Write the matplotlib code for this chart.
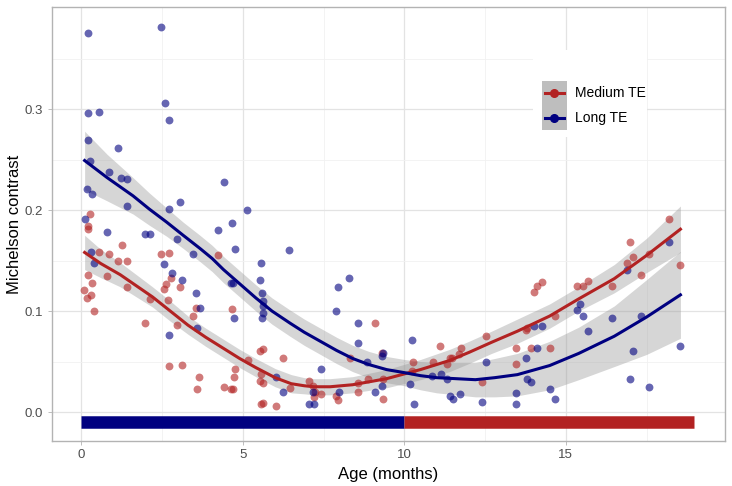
import matplotlib
matplotlib.use("Agg")
import matplotlib.pyplot as plt
from matplotlib.lines import Line2D
from matplotlib.patches import Rectangle
import numpy as np

plt.rcParams['font.family'] = ['Liberation Sans', 'DejaVu Sans']

# scatter points (age in months, Michelson contrast)
long_x = [0.20, 2.46, 0.20, 0.56, 2.60, 2.72, 0.20, 1.12, 0.27, 0.85, 1.24, 1.41, 0.16, 0.33,
          3.05, 4.42, 5.14, 2.70, 4.67, 4.24, 0.11, 0.79, 1.97, 2.11, 2.96, 4.76, 6.43, 1.42,
          3.45, 0.30, 0.40, 2.56, 2.80, 3.12, 3.54, 3.67, 3.57, 2.72, 5.55, 5.53, 4.62, 4.70,
          5.58, 5.61, 5.62, 5.62, 5.58, 4.73, 7.42, 6.03, 6.23, 7.16, 7.06, 7.19, 7.95, 8.30,
          7.88, 8.58, 8.57, 8.85, 7.99, 9.34, 9.31, 9.32, 9.10, 10.25, 10.18, 10.29, 10.87,
          11.13, 11.33, 11.40, 11.51, 11.72, 12.54, 12.41, 13.46, 13.46, 13.77, 13.79, 13.93,
          14.12, 14.00, 14.26, 14.51, 14.68, 15.36, 15.43, 15.54, 15.70, 16.42, 16.89, 17.34,
          17.07, 16.98, 17.57, 18.20, 18.55]
long_y = [0.375, 0.381, 0.296, 0.297, 0.306, 0.289, 0.269, 0.261, 0.249, 0.238, 0.232, 0.231,
          0.221, 0.216, 0.208, 0.228, 0.200, 0.201, 0.187, 0.180, 0.191, 0.178, 0.176, 0.176,
          0.171, 0.161, 0.160, 0.204, 0.156, 0.158, 0.148, 0.147, 0.138, 0.131, 0.118, 0.103,
          0.083, 0.076, 0.148, 0.131, 0.128, 0.128, 0.118, 0.110, 0.105, 0.098, 0.093, 0.093,
          0.043, 0.035, 0.020, 0.020, 0.008, 0.008, 0.124, 0.133, 0.100, 0.088, 0.068, 0.050,
          0.020, 0.058, 0.055, 0.026, 0.0195, 0.071, 0.028, 0.008, 0.036, 0.038, 0.033, 0.016,
          0.013, 0.018, 0.050, 0.010, 0.0185, 0.008, 0.053, 0.033, 0.030, 0.063, 0.085, 0.085,
          0.023, 0.013, 0.101, 0.107, 0.095, 0.080, 0.093, 0.141, 0.095, 0.060, 0.033, 0.025,
          0.168, 0.065]

med_x = [0.26, 0.20, 0.20, 1.25, 0.56, 0.86, 1.12, 1.42, 0.20, 0.33, 0.78, 0.09, 0.17, 0.30,
         0.40, 1.42, 1.98, 2.12, 2.46, 2.72, 2.79, 2.61, 2.56, 2.69, 3.05, 2.95, 3.45, 3.54,
         2.72, 3.12, 3.64, 3.57, 4.24, 4.66, 5.52, 5.61, 5.15, 6.25, 4.75, 4.72, 4.43, 4.64,
         4.68, 5.56, 5.53, 5.62, 5.57, 5.61, 6.04, 6.45, 7.05, 7.18, 7.22, 7.20, 7.42, 7.87,
         7.96, 8.31, 8.57, 8.57, 8.86, 9.10, 9.30, 9.34, 9.35, 10.26, 10.25, 10.88, 11.12,
         11.33, 11.41, 11.47, 11.70, 11.75, 12.54, 13.46, 13.46, 12.41, 13.76, 13.79, 13.92,
         14.51, 14.68, 14.00, 14.12, 14.26, 15.36, 15.54, 15.70, 16.42, 16.89, 17.07, 16.98,
         17.34, 17.58, 18.19, 18.55]
med_y = [0.196, 0.184, 0.181, 0.165, 0.158, 0.156, 0.150, 0.150, 0.136, 0.128, 0.135, 0.121,
         0.113, 0.116, 0.100, 0.124, 0.088, 0.112, 0.156, 0.157, 0.133, 0.127, 0.122, 0.111,
         0.124, 0.086, 0.095, 0.103, 0.046, 0.047, 0.035, 0.023, 0.155, 0.102, 0.060, 0.062,
         0.051, 0.053, 0.043, 0.035, 0.025, 0.023, 0.023, 0.038, 0.031, 0.029, 0.008, 0.009,
         0.006, 0.024, 0.031, 0.026, 0.020, 0.015, 0.018, 0.016, 0.012, 0.053, 0.029, 0.020,
         0.033, 0.088, 0.058, 0.033, 0.013, 0.050, 0.041, 0.050, 0.065, 0.048, 0.053, 0.053,
         0.057, 0.063, 0.075, 0.063, 0.048, 0.030, 0.081, 0.083, 0.063, 0.063, 0.095, 0.119,
         0.125, 0.129, 0.125, 0.125, 0.130, 0.125, 0.148, 0.153, 0.168, 0.136, 0.156, 0.191,
         0.146]

# smoothed trends, with half-width of the grey band
med_fit_x = [0.1, 0.6, 1.2, 1.7, 2.2, 2.75, 3.3, 3.85, 4.4, 4.9, 5.4, 6.0, 6.5, 6.9, 7.2,
             7.7, 8.4, 9.45, 10.5, 11.4, 12.0, 12.7, 13.5, 14.5, 15.4, 16.5, 17.5, 18.55]
med_fit_y = [0.158, 0.147, 0.136, 0.125, 0.114, 0.100, 0.086, 0.074, 0.063, 0.053, 0.044,
             0.034, 0.028, 0.026, 0.025, 0.025, 0.027, 0.033, 0.042, 0.051, 0.059, 0.069,
             0.080, 0.095, 0.112, 0.132, 0.155, 0.181]
med_se = [0.017, 0.014, 0.012, 0.011, 0.010, 0.010, 0.009, 0.009, 0.009, 0.009, 0.009,
          0.009, 0.009, 0.008, 0.008, 0.008, 0.008, 0.009, 0.010, 0.011, 0.011, 0.011,
          0.012, 0.012, 0.012, 0.014, 0.017, 0.023]

long_fit_x = [0.1, 0.8, 1.6, 2.1, 2.64, 3.15, 3.67, 4.05, 4.4, 4.9, 5.4, 5.9, 6.46, 6.9, 7.4,
              7.9, 8.4, 8.9, 9.45, 10.0, 10.5, 11.0, 11.6, 12.2, 12.8, 13.5, 14.5, 15.4, 16.5,
              17.5, 18.55]
long_fit_y = [0.249, 0.232, 0.214, 0.201, 0.188, 0.175, 0.162, 0.152, 0.141, 0.127, 0.113,
              0.100, 0.088, 0.079, 0.070, 0.061, 0.053, 0.047, 0.042, 0.039, 0.036, 0.034,
              0.033, 0.032, 0.034, 0.037, 0.046, 0.058, 0.075, 0.094, 0.116]
long_se = [0.029, 0.023, 0.018, 0.016, 0.014, 0.013, 0.013, 0.013, 0.013, 0.013, 0.013,
           0.013, 0.013, 0.013, 0.013, 0.013, 0.013, 0.013, 0.013, 0.013, 0.014, 0.015,
           0.016, 0.017, 0.019, 0.021, 0.024, 0.026, 0.030, 0.037, 0.043]

# TE protocol bar along the bottom
bar_start = [0, 10]
bar_end = [10, 18.96]
bar_level = -0.01

RED = '#B22222'
NAVY = '#000080'

fig = plt.figure(figsize=(7.32, 4.86), dpi=100)
ax = fig.add_axes([0.0706, 0.0926, 0.9194, 0.893])

ax.set_xlim(-0.92, 19.92)
ax.set_ylim(-0.0287, 0.401)
ax.set_xticks([0, 5, 10, 15])
ax.set_yticks([0.0, 0.1, 0.2, 0.3])
ax.set_yticklabels(['0.0', '0.1', '0.2', '0.3'])
ax.set_xticks([2.5, 7.5, 12.5, 17.5], minor=True)
ax.set_yticks([0.05, 0.15, 0.25, 0.35], minor=True)
ax.grid(which='major', color='#E3E3E3', lw=0.9)
ax.grid(which='minor', color='#F1F1F1', lw=0.6)
ax.set_axisbelow(True)
ax.tick_params(which='major', length=3, width=0.6, color='#B3B3B3',
               labelsize=9.5, labelcolor='#4D4D4D', pad=3)
ax.tick_params(which='minor', length=0)
for s in ax.spines.values():
    s.set_color('#B3B3B3')
    s.set_linewidth(1.0)

for x0, x1, c in zip(bar_start, bar_end, [NAVY, RED]):
    ax.plot([x0, x1], [bar_level, bar_level], color=c, lw=9, solid_capstyle='butt', zorder=2)

mx, my, ms = np.array(med_fit_x), np.array(med_fit_y), np.array(med_se)
lx, ly, ls = np.array(long_fit_x), np.array(long_fit_y), np.array(long_se)
ax.fill_between(mx, my - ms, my + ms, color='#999999', alpha=0.4, lw=0, zorder=2)
ax.fill_between(lx, ly - ls, ly + ls, color='#999999', alpha=0.4, lw=0, zorder=2)

ax.scatter(med_x, med_y, s=32, color=RED, alpha=0.6, lw=0, zorder=3)
ax.scatter(long_x, long_y, s=32, color=NAVY, alpha=0.6, lw=0, zorder=3)

ax.plot(mx, my, color=RED, lw=2.2, zorder=4, solid_joinstyle='round')
ax.plot(lx, ly, color=NAVY, lw=2.2, zorder=4, solid_joinstyle='round')

ax.set_xlabel('Age (months)', fontsize=12, labelpad=4)
ax.set_ylabel('Michelson contrast', fontsize=12, labelpad=2)

# legend drawn like ggplot's (white box, grey key background)
fig.patches.append(Rectangle((0.728, 0.718), 0.156, 0.179, transform=fig.transFigure,
                             facecolor='white', edgecolor='none', zorder=5))
fig.patches.append(Rectangle((0.740, 0.7325), 0.0342, 0.1008, transform=fig.transFigure,
                             facecolor='#BEBEBE', edgecolor='none', zorder=6))
for yk, c, lab in [(0.8086, RED, 'Medium TE'), (0.757, NAVY, 'Long TE')]:
    fig.add_artist(Line2D([0.7445, 0.7705], [yk, yk], color=c, lw=2.2, zorder=7))
    fig.add_artist(Line2D([0.7575], [yk], marker='o', ms=5.5, color=c, lw=0, zorder=7))
    fig.text(0.7855, yk, lab, fontsize=10, va='center', ha='left', color='black', zorder=7)

fig.savefig('out.png', dpi=100)
